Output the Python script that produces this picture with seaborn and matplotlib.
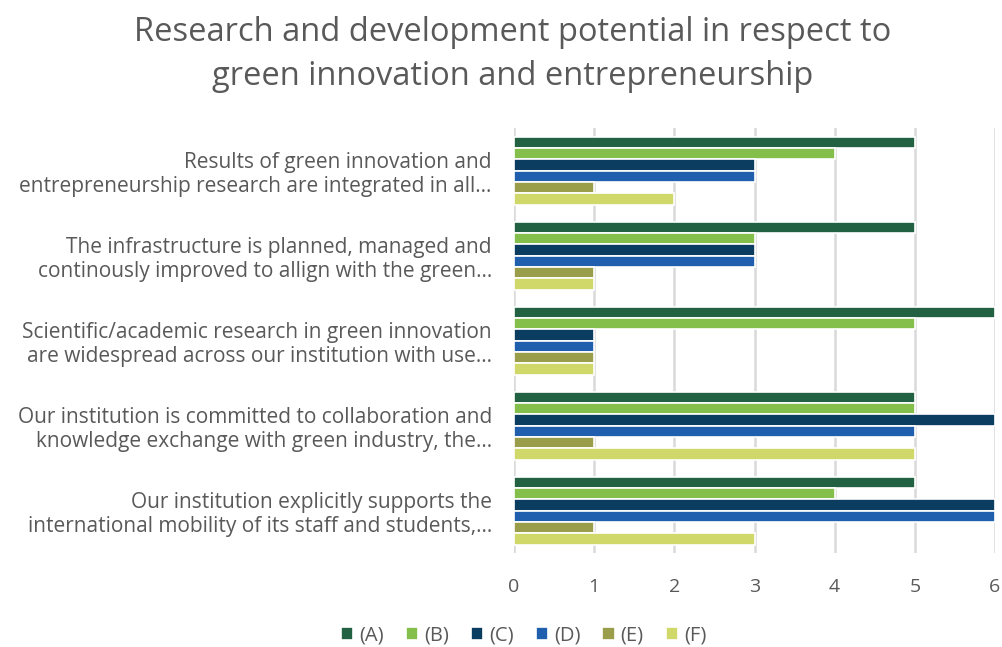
import pandas as pd
import matplotlib.pyplot as plt
import seaborn as sns

categories = [
    "Results of green innovation and\nentrepreneurship research are integrated in all…",
    "The infrastructure is planned, managed and\ncontinously improved to allign with the green…",
    "Scientific/academic research in green innovation\nare widespread across our institution with use…",
    "Our institution is committed to collaboration and\nknowledge exchange with green industry, the…",
    "Our institution explicitly supports the\ninternational mobility of its staff and students,…",
]
series = ["(A)", "(B)", "(C)", "(D)", "(E)", "(F)"]
values_a = [5, 5, 6, 5, 5]
values_b = [4, 3, 5, 5, 4]
values_c = [3, 3, 1, 6, 6]
values_d = [3, 3, 1, 5, 6]
values_e = [1, 1, 1, 1, 1]
values_f = [2, 1, 1, 5, 3]
colors = ["#236143", "#85bf4b", "#0b3d60", "#1f5fae", "#9a9e4a", "#d0d86a"]

rows = []
for name, vals in zip(series, [values_a, values_b, values_c, values_d, values_e, values_f]):
    for cat, v in zip(categories, vals):
        rows.append({"Category": cat, "Series": name, "Value": v})
df = pd.DataFrame(rows)

sns.set_style("white")
plt.rcParams["font.family"] = ["Open Sans", "DejaVu Sans"]
text_color = "#595959"

fig = plt.figure(figsize=(10.03, 6.47), dpi=100)
ax = fig.add_axes([0.5125, 0.145, 0.4795, 0.657])

sns.barplot(data=df, y="Category", x="Value", hue="Series", orient="h",
            palette=colors, saturation=1, width=0.8, edgecolor="white",
            linewidth=1.2, ax=ax, legend=True)

ax.set_xlim(0, 6)
ax.set_ylim(4.5, -0.5)
ax.set_xticks(range(0, 7))
ax.xaxis.grid(True, color="#d9d9d9", linewidth=1.8)
ax.set_axisbelow(True)
for s in ax.spines.values():
    s.set_visible(False)
ax.tick_params(axis="both", length=0, labelcolor=text_color)
ax.tick_params(axis="x", pad=18, labelsize=14)
ax.tick_params(axis="y", pad=16, labelsize=15)
for lbl in ax.get_yticklabels():
    lbl.set_horizontalalignment("right")
    lbl.set_linespacing(1.2)
ax.set_xlabel("")
ax.set_ylabel("")

handles, labels = ax.get_legend_handles_labels()
ax.legend_.remove()
fig.legend(handles, labels, loc="center", bbox_to_anchor=(0.522, 0.018), ncol=6,
           frameon=False, fontsize=14.5, labelcolor=text_color, handlelength=0.6,
           handleheight=0.6, handletextpad=0.3, columnspacing=1.1)

fig.suptitle("Research and development potential in respect to\ngreen innovation and entrepreneurship",
             x=0.511, y=0.975, fontsize=23.5, color=text_color, linespacing=1.45)

fig.savefig("out.png", dpi=100)
